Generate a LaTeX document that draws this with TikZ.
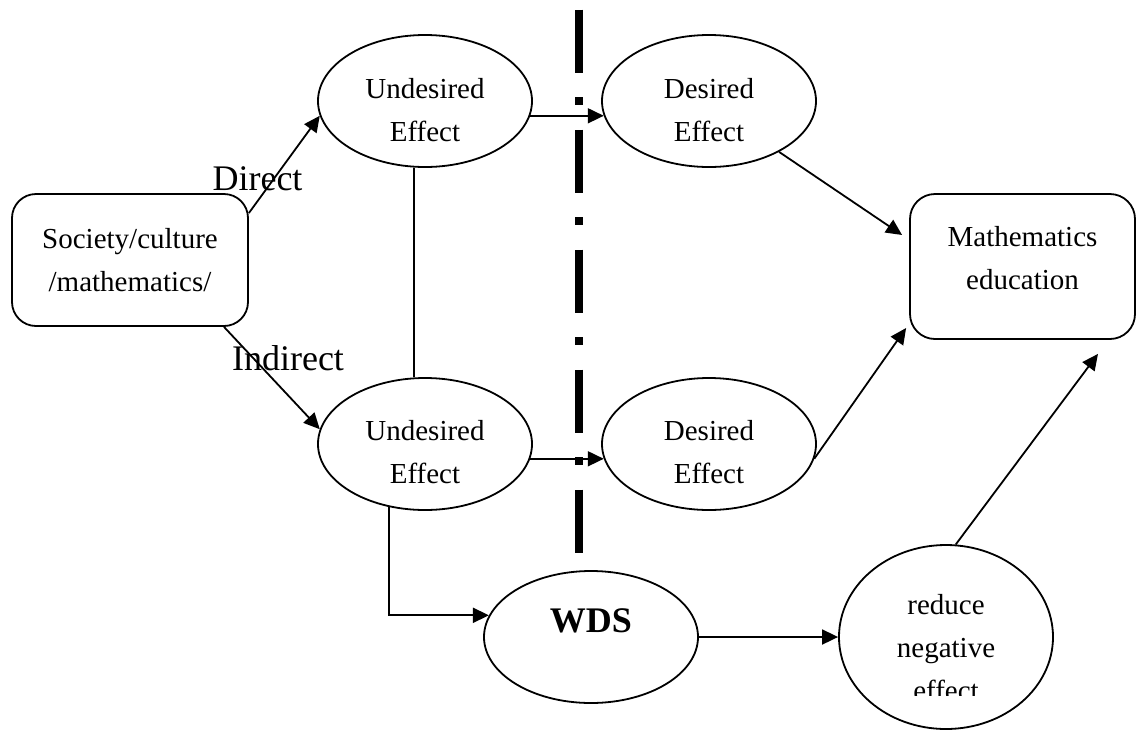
\documentclass[tikz,border=0pt]{standalone}
\usepackage{fontspec}
\setmainfont{Liberation Serif}
\usetikzlibrary{arrows.meta}
\usetikzlibrary{shapes.geometric}
\tikzset{oval/.style = {draw, ellipse, line width=1.8pt,
                        minimum width=214pt, minimum height=132pt, inner sep=0pt}}
\tikzset{rbox/.style = {draw, rectangle, line width=1.8pt, inner sep=0pt}}
\tikzset{txt/.style = {align=center, inner sep=0pt, font=\fontsize{29}{43}\selectfont}}
\tikzset{lbl/.style = {inner sep=0pt, font=\fontsize{36}{40}\selectfont}}
\tikzset{link/.style = {line width=1.8pt, -{Triangle[length=16pt, width=15pt]}}}

\begin{document}
\begin{tikzpicture}[x=1pt, y=-1pt]
      \useasboundingbox (0, 0) rectangle (1141, 729);

      \node [rbox, txt, rounded corners=24pt, minimum width=236pt, minimum height=132pt]
        (soc) at (130, 260) {Society/culture\\/mathematics/};
      \node [rbox, rounded corners=25pt, minimum width=225pt, minimum height=145pt]
        (med) at (1022.5, 266.5) {};
      \node [txt] (medtext) at (1022.5, 258.5) {Mathematics\\education};

      \node [oval] (ud1) at (425, 101) {};
      \node [oval] (de1) at (709, 101) {};
      \node [oval] (ud2) at (425, 444) {};
      \node [oval] (de2) at (709, 444) {};
      \node [oval] (wds) at (591, 637) {};
      \node [oval, minimum height=184pt] (rdc) at (946, 637) {};

      \node [txt] (ud1text) at (425, 110) {Undesired\\Effect};
      \node [txt] (de1text) at (709, 110) {Desired\\Effect};
      \node [txt] (ud2text) at (425, 452) {Undesired\\Effect};
      \node [txt] (de2text) at (709, 452) {Desired\\Effect};
      \node [lbl, font=\fontsize{36}{40}\selectfont\bfseries] (wdstext) at (591, 621) {WDS};
      \begin{scope}
        \clip (830, 560) rectangle (1060, 695);
        \node [txt] (rdctext) at (946, 648) {reduce\\negative\\effect};
      \end{scope}

      \node [lbl, anchor=base] (dir) at (257.5, 190) {Direct};
      \node [lbl, anchor=base] (indir) at (288, 370) {Indirect};

      % dash-dot divider
      \draw [line width=8pt, dash pattern=on 63pt off 24.5pt on 8pt off 24.5pt]
        (579, 9.5) -- (579, 553);

      \draw [link] ([yshift=47pt]soc.east) -- (ud1.188);
      \draw [link] ([xshift=94pt]soc.south) -- (ud2.172);
      \draw [line width=1.8pt] ([xshift=-11pt]ud1.south) -- ([xshift=-11pt]ud2.north);
      \draw [link] (ud1.352) -- (de1.188);
      \draw [link] (ud2.352) -- (de2.188);
      \draw [link] (de1.324) -- ([shift={(-7pt, 31.5pt)}]med.west);
      \draw [link] (de2.352) -- ([shift={(-3pt, -61.5pt)}]med.west);
      \draw [link] (rdc.84) -- ([shift={(75.5pt, -14pt)}]med.south);
      \draw [link] (ud2.240) |- (wds.168);
      \draw [link] (wds.east) -- (rdc.west);
\end{tikzpicture}
\end{document}
